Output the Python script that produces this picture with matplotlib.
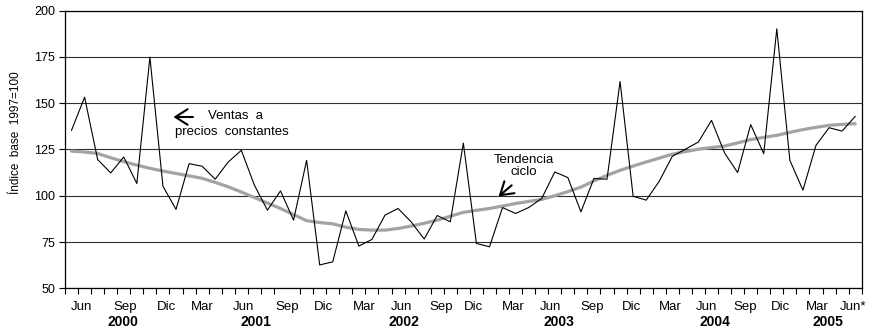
import numpy as np
import matplotlib
matplotlib.use("Agg")
import matplotlib.pyplot as plt

plt.rcParams['font.family'] = ['Liberation Sans', 'DejaVu Sans']

# monthly series, Jun 2000 .. Jun 2005
ventas = [135.3, 153.2, 119.5, 112.3, 120.9, 106.6, 174.8, 105.1, 92.6, 117.3,
          115.9, 108.9, 118.2, 124.5, 105.7, 92.2, 102.6, 86.8, 119.1, 62.6,
          64.3, 91.8, 72.8, 76.4, 89.5, 93.1, 85.9, 76.6, 89.3, 85.9,
          128.4, 74.2, 72.4, 93.6, 90.4, 93.6, 98.5, 112.8, 109.8, 91.3,
          109.3, 108.9, 161.7, 99.7, 97.6, 107.8, 121.3, 125.1, 129.0, 140.7,
          123.1, 112.5, 138.4, 122.7, 190.1, 119.1, 103.0, 127.2, 136.7, 134.9,
          142.8]
tendencia = [124.1, 123.6, 122.8, 120.5, 118.4, 116.5, 114.8, 113.3, 112.0, 110.7,
             109.4, 107.2, 104.8, 102.0, 99.0, 96.0, 93.1, 89.8, 86.5, 85.5,
             84.8, 83.0, 81.8, 81.4, 81.4, 82.3, 83.6, 85.1, 86.8, 88.9,
             91.0, 92.1, 93.1, 94.4, 95.8, 96.9, 98.0, 100.0, 102.2, 104.6,
             108.0, 111.0, 113.7, 116.0, 118.2, 120.3, 122.4, 123.8, 125.1, 126.0,
             126.8, 128.5, 130.3, 131.5, 132.6, 134.2, 135.7, 136.9, 138.0, 138.5,
             138.9]
meses = ['Jun', 'Sep', 'Dic', 'Mar', 'Jun', 'Sep', 'Dic', 'Mar', 'Jun', 'Sep', 'Dic',
         'Mar', 'Jun', 'Sep', 'Dic', 'Mar', 'Jun', 'Sep', 'Dic', 'Mar', 'Jun*']
anios = ['2000', '2001', '2002', '2003', '2004', '2005']

# where the labels sit along the month axis
pos_meses = [0.8, 4.1, 7.27, 10.0, 13.2, 16.5, 19.3, 22.45, 25.3, 28.3, 30.75,
             33.8, 36.65, 39.85, 42.9, 45.85, 48.65, 51.6, 54.3, 57.1, 59.85]
pos_anios = [3.95, 14.15, 25.45, 37.35, 49.3, 57.9]

x = np.arange(len(ventas))

fig = plt.figure(figsize=(8.73, 3.31), dpi=100)
ax = fig.add_axes([65 / 873, 1 - 288.3 / 331, 796.7 / 873, 277.8 / 331])

ax.plot(x, tendencia, color='#a3a3a3', lw=2.3, zorder=3, solid_capstyle='round')
ax.plot(x, ventas, color='black', lw=0.8, zorder=4)

ax.set_xlim(-0.5, len(ventas) - 0.5)
ax.set_ylim(50, 200)
ax.set_yticks(np.arange(50, 201, 25))
ax.yaxis.grid(True, color='#303030', lw=0.8)
ax.set_axisbelow(True)
for s in ax.spines.values():
    s.set_linewidth(0.9)

ax.set_xticks(pos_meses)
ax.set_xticklabels(meses, fontsize=9.5)
ax.set_xticks(np.arange(-0.5, len(ventas), 1), minor=True)
ax.tick_params(axis='x', which='major', length=0, pad=9)
ax.tick_params(axis='x', which='minor', length=4, width=0.8, direction='out')
ax.tick_params(axis='y', length=4, width=0.8, direction='out', labelsize=9, pad=3)

for a, p in zip(anios, pos_anios):
    ax.text(p, -0.12, a, transform=ax.get_xaxis_transform(), ha='center', va='center',
            fontsize=10, fontweight='bold')

ax.set_ylabel('Índice  base  1997=100', fontsize=8.5)
ax.yaxis.set_label_coords(-0.054, 0.56)

# annotations
flecha = dict(arrowstyle='->, head_length=0.55, head_width=0.35', lw=1.5,
              color='black', mutation_scale=16, shrinkA=0, shrinkB=0)
ax.annotate('', xy=(7.8, 142.5), xytext=(9.3, 142.5), arrowprops=flecha)
ax.text(10.45, 142.8, 'Ventas  a', fontsize=9.5, va='center', ha='left')
ax.text(7.9, 134.4, 'precios  constantes', fontsize=9.5, va='center', ha='left')

ax.text(34.6, 116.2, 'Tendencia\nciclo', fontsize=9.5, va='center', ha='center',
        linespacing=1.0)
ax.annotate('', xy=(32.7, 99.6), xytext=(33.7, 105.6), arrowprops=flecha)

fig.savefig('out.png', dpi=100)
